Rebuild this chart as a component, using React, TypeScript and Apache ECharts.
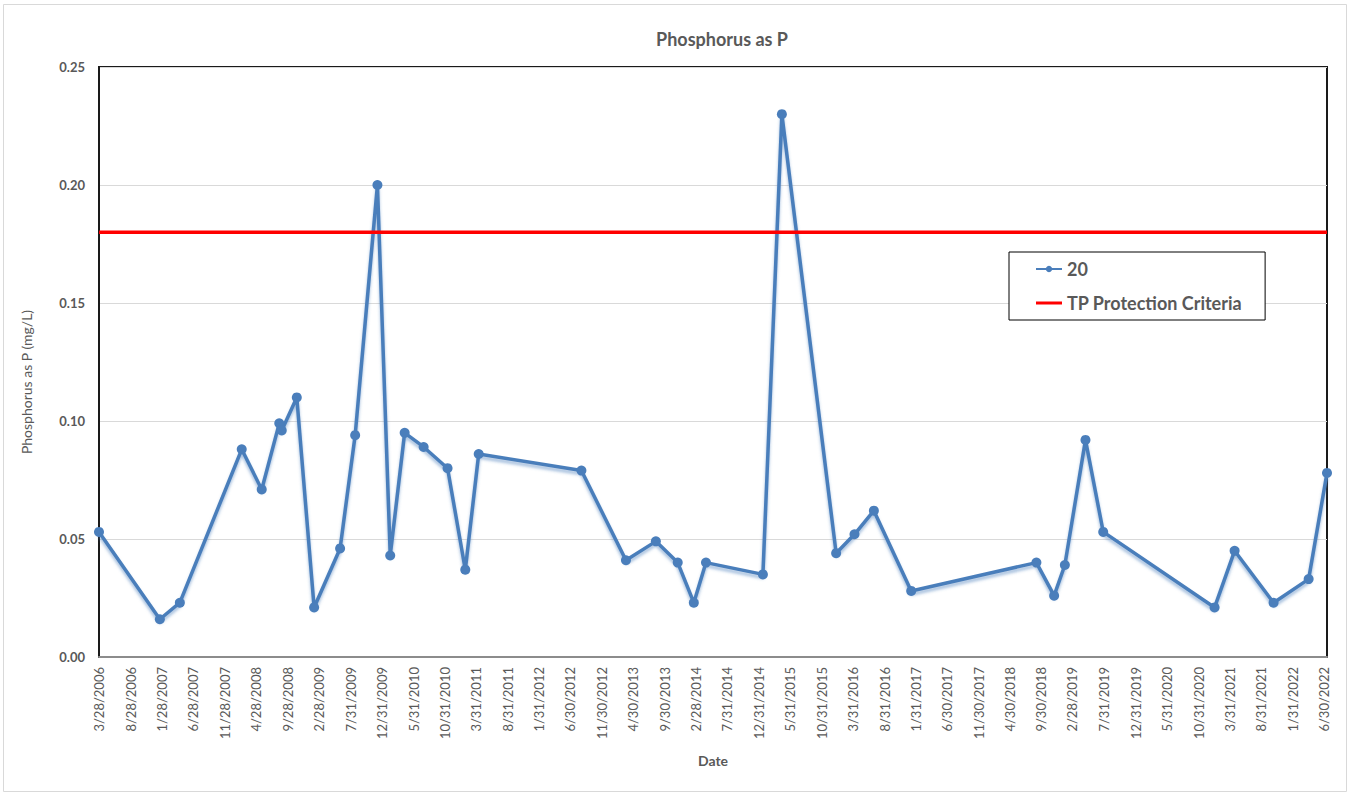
import React, { useEffect, useRef } from "react";
import * as echarts from "echarts";

const seriesName = "20";
const criteriaName = "TP Protection Criteria";
const criteriaValue = 0.18;

const sampleDates = [
  "2006-03-28", "2007-01-17", "2007-04-24", "2008-02-18", "2008-05-25",
  "2008-08-18", "2008-08-30", "2008-11-11", "2009-02-03", "2009-06-09",
  "2009-08-21", "2009-12-07", "2010-02-07", "2010-04-18", "2010-07-19",
  "2010-11-12", "2011-02-06", "2011-04-12", "2012-08-22", "2013-03-26",
  "2013-08-18", "2013-12-02", "2014-02-18", "2014-04-18", "2015-01-19",
  "2015-04-21", "2016-01-09", "2016-04-07", "2016-07-10", "2017-01-07",
  "2018-09-06", "2018-12-01", "2019-01-22", "2019-05-02", "2019-07-27",
  "2021-01-17", "2021-04-24", "2021-10-30", "2022-04-18", "2022-07-16",
];

const phosphorus = [
  0.053, 0.016, 0.023, 0.088, 0.071,
  0.099, 0.096, 0.110, 0.021, 0.046,
  0.094, 0.200, 0.043, 0.095, 0.089,
  0.080, 0.037, 0.086, 0.079, 0.041,
  0.049, 0.040, 0.023, 0.040, 0.035,
  0.230, 0.044, 0.052, 0.062, 0.028,
  0.040, 0.026, 0.039, 0.092, 0.053,
  0.021, 0.045, 0.023, 0.033, 0.078,
];

const tickLabels = [
  "3/28/2006", "8/28/2006", "1/28/2007", "6/28/2007", "11/28/2007",
  "4/28/2008", "9/28/2008", "2/28/2009", "7/31/2009", "12/31/2009",
  "5/31/2010", "10/31/2010", "3/31/2011", "8/31/2011", "1/31/2012",
  "6/30/2012", "11/30/2012", "4/30/2013", "9/30/2013", "2/28/2014",
  "7/31/2014", "12/31/2014", "5/31/2015", "10/31/2015", "3/31/2016",
  "8/31/2016", "1/31/2017", "6/30/2017", "11/30/2017", "4/30/2018",
  "9/30/2018", "2/28/2019", "7/31/2019", "12/31/2019", "5/31/2020",
  "10/31/2020", "3/31/2021", "8/31/2021", "1/31/2022", "6/30/2022",
];

const yTicks = [0, 0.05, 0.1, 0.15, 0.2, 0.25];

function isoToMs(s: string): number {
  const [y, m, d] = s.split("-").map(Number);
  return Date.UTC(y, m - 1, d);
}
function mdyToMs(s: string): number {
  const [m, d, y] = s.split("/").map(Number);
  return Date.UTC(y, m - 1, d);
}
function fmt(v: number): string {
  const dt = new Date(v);
  return `${dt.getUTCMonth() + 1}/${dt.getUTCDate()}/${dt.getUTCFullYear()}`;
}

const FONT = "Lato, 'Open Sans', sans-serif";
const GREY = "#595959";
const BLUE = "#4a7ebb";

export default function App() {
  const ref = useRef<HTMLDivElement>(null);
  useEffect(() => {
    if (!ref.current) return;
    const chart = echarts.init(ref.current, undefined, { renderer: "svg" });
    const xs = sampleDates.map(isoToMs);
    const xMin = xs[0];
    const xMax = xs[xs.length - 1];
    const tickValues = tickLabels.map(mdyToMs);
    const option: any = {
      animation: false,
      backgroundColor: "#ffffff",
      textStyle: { fontFamily: FONT },
      title: {
        text: "Phosphorus as P",
        left: 717,
        top: 25,
        textAlign: "center",
        textStyle: { fontFamily: FONT, fontSize: 18, fontWeight: "bold", color: GREY },
      },
      graphic: [
        {
          type: "rect",
          shape: { x: 3.5, y: 4.5, width: 1343, height: 787 },
          style: { fill: "none", stroke: "#d9d9d9", lineWidth: 1 },
          silent: true,
          z: -1,
        },
        {
          type: "text",
          x: 26,
          y: 382,
          rotation: Math.PI / 2,
          style: {
            text: "Phosphorus as P (mg/L)",
            fontFamily: FONT,
            fontSize: 14,
            fill: GREY,
            align: "center",
            verticalAlign: "middle",
          },
          silent: true,
        },
      ],
      legend: {
        orient: "vertical",
        left: 1009,
        top: 252,
        padding: [7, 23, 7, 26],
        itemGap: 14,
        itemWidth: 26,
        itemHeight: 8,
        borderColor: "#000",
        borderWidth: 1,
        backgroundColor: "#fff",
        textStyle: { fontFamily: FONT, fontSize: 18, fontWeight: "bold", color: GREY, lineHeight: 20 },
        data: [
          { name: seriesName },
          { name: criteriaName, icon: "path://M0,0 L26,0 L26,3 L0,3 Z" },
        ],
      },
      grid: {
        left: 99,
        right: 24,
        top: 67,
        bottom: 136,
        show: true,
        borderColor: "#1a1a1a",
        borderWidth: 2,
        containLabel: false,
        outerBoundsMode: "none",
      },
      xAxis: {
        type: "value",
        min: xMin,
        max: xMax,
        name: "Date",
        nameLocation: "middle",
        nameGap: 96,
        nameTextStyle: { fontFamily: FONT, fontSize: 14, fontWeight: "bold", color: GREY },
        axisLine: { show: true, lineStyle: { color: "#8c8c8c", width: 2 } },
        axisTick: { show: false, customValues: tickValues },
        splitLine: { show: false },
        axisLabel: {
          customValues: tickValues,
          rotate: 90,
          margin: 10,
          fontFamily: FONT,
          fontSize: 13,
          color: GREY,
          formatter: (v: number) => fmt(v),
        },
      },
      yAxis: {
        type: "value",
        min: 0,
        max: 0.25,
        interval: 0.05,
        axisLine: { show: true, lineStyle: { color: "#1a1a1a", width: 2 } },
        axisTick: { show: false },
        splitLine: { show: true, lineStyle: { color: "#d9d9d9", width: 1 } },
        axisLabel: {
          margin: 14,
          fontFamily: FONT,
          fontSize: 13,
          fontWeight: "bold",
          color: GREY,
          customValues: yTicks,
          formatter: (v: number) => v.toFixed(2),
        },
      },
      series: [
        {
          name: seriesName,
          type: "line",
          data: xs.map((x, i) => [x, phosphorus[i]]),
          symbol: "circle",
          symbolSize: 10,
          clip: false,
          color: BLUE,
          lineStyle: {
            color: BLUE,
            width: 3.5,
            shadowColor: "rgba(74,126,187,0.5)",
            shadowBlur: 3,
            shadowOffsetY: 3,
          },
          itemStyle: { color: BLUE },
          z: 3,
        },
        {
          name: criteriaName,
          type: "line",
          data: [
            [xMin, criteriaValue],
            [xMax, criteriaValue],
          ],
          symbol: "none",
          color: "#ff0000",
          lineStyle: { color: "#ff0000", width: 3.5 },
          z: 4,
        },
      ],
    };
    chart.setOption(option);
    return () => chart.dispose();
  }, []);
  return (
    <div
      ref={ref}
      style={{ position: "fixed", left: 0, top: 0, width: 1351, height: 793, background: "#fff" }}
    />
  );
}
